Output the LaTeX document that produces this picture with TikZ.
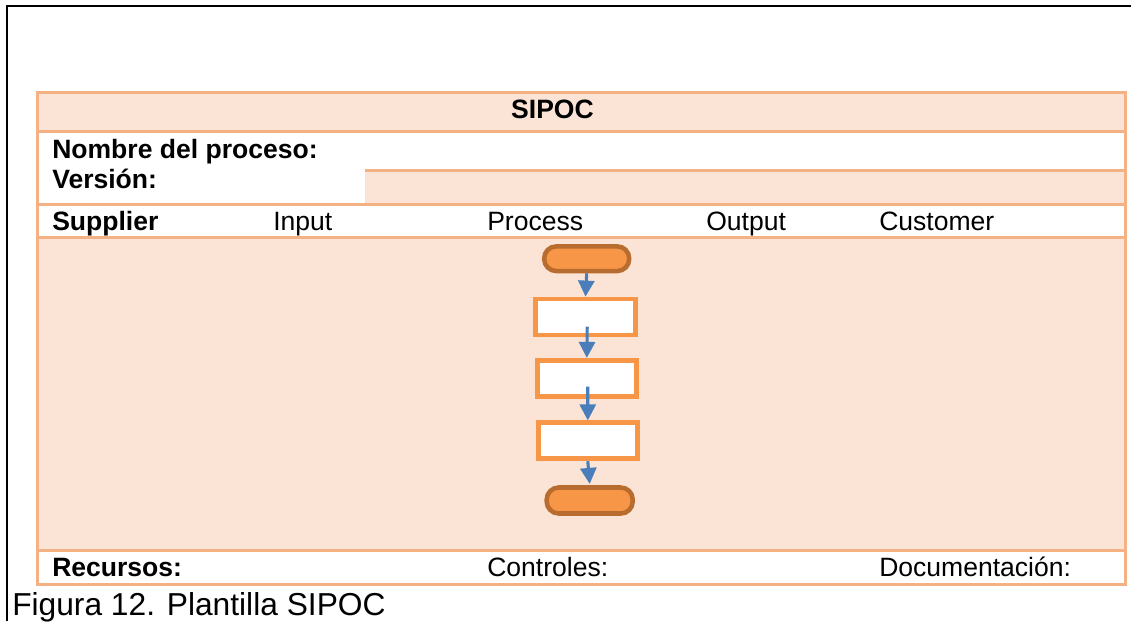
\documentclass[tikz,border=0pt]{standalone}
\usepackage{fontspec}
\setmainfont{Liberation Sans}
\usetikzlibrary{arrows.meta,calc}

\definecolor{tablefill}{HTML}{FBE4D5}
\definecolor{tableline}{HTML}{F4B183}
\definecolor{procfill}{HTML}{F79646}
\definecolor{termline}{HTML}{B96C2F}
\definecolor{flowblue}{HTML}{4A7EBB}

\tikzset{
  rule/.style={draw=tableline, line width=2.25pt},
  txt/.style={anchor=base west, inner sep=0pt, font=\fontsize{19.9}{22}\selectfont},
  btxt/.style={txt, font=\fontsize{19.9}{22}\selectfont\bfseries},
  terminal/.style={draw=termline, fill=procfill, line width=3.4pt,
    rounded corners=9pt, minimum width=63.75pt, minimum height=18.5pt, inner sep=0pt},
  stepbox/.style={draw=procfill, fill=white, line width=3.6pt,
    minimum width=74.5pt, minimum height=27pt, inner sep=0pt},
  flow/.style={draw=flowblue, line width=2.3pt,
    -{Triangle[width=12pt,length=12pt]}},
}

\begin{document}
\begin{tikzpicture}[x=0.75pt,y=-0.75pt]
\useasboundingbox (0,0) rectangle (1131,621);

% page frame (top and left edge)
\draw[line width=1.3pt] (7,621) -- (7,6) -- (1131,6);

% shaded bands of the table
\fill[tablefill] (37,92) rectangle (1125,131);
\fill[tablefill] (365,170) rectangle (1125,204);
\fill[tablefill] (37,237) rectangle (1125,550);

% table rules
\draw[rule] (37,131) -- (1125,131);
\draw[rule] (365,170) -- (1125,170);
\draw[rule] (37,204) -- (1125,204);
\draw[rule] (37,237) -- (1125,237);
\draw[rule] (37,550) -- (1125,550);
\draw[rule] (37,92) rectangle (1125,584);

% headings
\node[btxt, anchor=base] (title) at (552.5,118.5) {SIPOC};
\node[btxt] (nombre) at (52,158) {Nombre del proceso:};
\node[btxt] (version) at (52,188.5) {Versión:};

\node[btxt] (supplier) at (52,230) {Supplier};
\node[txt] (input) at (273,230) {Input};
\node[txt] (process) at (487,230) {Process};
\node[txt] (output) at (706,230) {Output};
\node[txt] (customer) at (879,230) {Customer};

\node[btxt] (recursos) at (52,576) {Recursos:};
\node[txt] (controles) at (487,576) {Controles:};
\node[txt] (docu) at (879,576) {Documentación:};

% caption
\node[anchor=base west, inner sep=0pt, font=\fontsize{23.8}{27}\selectfont]
  (caption) at (12,615) {Figura 12. Plantilla SIPOC};

% process flow
\node[terminal] (start) at (586.7,258.7) {};
\node[stepbox] (s1) at (585.5,317) {};
\node[stepbox] (s2) at (586.8,378.3) {};
\node[stepbox] (s3) at (587.8,440.8) {};
\node[terminal, minimum width=64.5pt, minimum height=19.5pt] (stop) at (589.7,500.5) {};

\draw[flow] (start.south) -- (s1.north);
\draw[flow] ([xshift=1.3pt,yshift=-7.3pt]s1.center) -- (s2.north);
\draw[flow] ([xshift=0.7pt,yshift=-6.3pt]s2.center) -- (s3.north);
\draw[flow] (s3.south) -- ([yshift=1pt]stop.north);
\end{tikzpicture}
\end{document}
